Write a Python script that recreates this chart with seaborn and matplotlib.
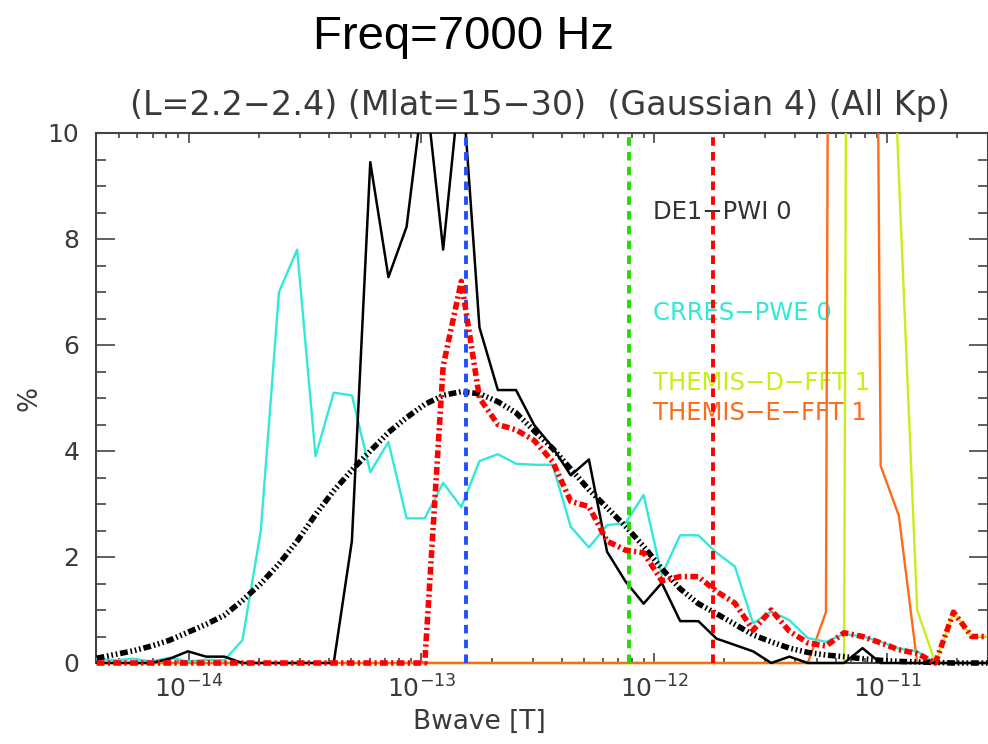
import matplotlib
matplotlib.use("Agg")
import matplotlib.pyplot as plt
import numpy as np
import pandas as pd
import seaborn as sns
from matplotlib.ticker import FixedLocator, NullFormatter, MultipleLocator, LogFormatterMathtext
from matplotlib.patches import Rectangle

# ---------------- data ----------------
LOG_BWAVE = [-14.395, -14.317, -14.238, -14.160, -14.082, -14.003, -13.925, -13.847,
             -13.769, -13.690, -13.612, -13.534, -13.455, -13.377, -13.299, -13.220,
             -13.142, -13.064, -12.986, -12.907, -12.829, -12.751, -12.672, -12.594,
             -12.516, -12.437, -12.359, -12.281, -12.203, -12.124, -12.046, -11.968,
             -11.889, -11.811, -11.733, -11.654, -11.576, -11.498, -11.420, -11.341,
             -11.263, -11.185, -11.106, -11.028, -10.950, -10.871, -10.793, -10.715,
             -10.637, -10.558]

DE1_PWI = [0, 0, 0, 0, 0.08, 0.22, 0.12, 0.12, 0, 0,
           0, 0, 0, 0, 2.3, 9.45, 7.28, 8.23, 11.0, 7.8,
           11.2, 6.33, 5.15, 5.15, 4.49, 4.07, 3.54, 3.84, 2.1, 1.54,
           1.12, 1.51, 0.79, 0.79, 0.46, 0.34, 0.22, 0.0, 0.12, 0,
           0, 0, 0.28, 0, 0, 0, 0, 0, 0, 0]

CRRES_PWE = [0.08, 0.05, 0.08, 0.03, 0.1, 0.03, 0.06, 0.05, 0.43, 2.5,
             7.0, 7.8, 3.9, 5.1, 5.05, 3.6, 4.17, 2.73, 2.73, 3.4,
             2.94, 3.81, 3.94, 3.76, 3.74, 3.74, 2.57, 2.18, 2.6, 2.64,
             3.17, 1.66, 2.41, 2.41, 2.08, 1.82, 0.75, 0.97, 0.81, 0.47,
             0.4, 0.55, 0.5, 0.4, 0.27, 0.22, 0.0, 0, 0, 0]

THEMIS_D = [0] * 42 + [104, 18, 9.2, 1.0, 0, 0.96, 0.5, 0.5]
THEMIS_E = [0] * 40 + [0.96, 97, 51, 3.72, 2.78, 0, 0, 0, 0, 0]

COMBINED = [0, 0, 0, 0, 0, 0, 0, 0, 0, 0,
            0, 0, 0, 0, 0, 0, 0, 0, 0, 5.6,
            7.2, 5.0, 4.5, 4.4, 4.2, 3.8, 3.05, 2.95, 2.3, 2.13,
            2.08, 1.55, 1.63, 1.63, 1.35, 1.13, 0.62, 1.0, 0.6, 0.38,
            0.32, 0.57, 0.5, 0.38, 0.25, 0.18, 0.0, 0.96, 0.5, 0.5]

GAUSS_FIT = [0.09, 0.16, 0.23, 0.32, 0.43, 0.58, 0.73, 0.9, 1.18, 1.5,
             1.87, 2.3, 2.8, 3.25, 3.64, 4.0, 4.35, 4.63, 4.88, 5.05,
             5.12, 5.08, 4.93, 4.72, 4.38, 4.05, 3.66, 3.27, 2.93, 2.58,
             2.2, 1.78, 1.4, 1.12, 0.93, 0.73, 0.53, 0.4, 0.28, 0.2,
             0.15, 0.12, 0.08, 0.05, 0.03, 0.02, 0.01, 0, 0, 0]

X_MAJOR_TICKS = [1e-14, 1e-13, 1e-12, 1e-11]
VLINE_BWAVE = [1.55e-13, 7.8e-13, 1.79e-12]
VLINE_COLORS = ["#1f4fff", "#22dd00", "#ff0000"]

LABELS = ["DE1\u2212PWI 0", "CRRES\u2212PWE 0", "THEMIS\u2212D\u2212FFT 1", "THEMIS\u2212E\u2212FFT 1"]
LABEL_COLORS = ["#333333", "#33e8d8", "#c6f018", "#ff6a1a"]

TITLE = "Freq=7000 Hz"
SUBTITLE = "(L=2.2\u22122.4) (Mlat=15\u221230)  (Gaussian 4) (All Kp)"

# ---------------- styling ----------------
sns.set_style("white")
plt.rcParams["font.family"] = ["DejaVu Sans"]
plt.rcParams["mathtext.default"] = "regular"
AX_GRAY = "#444444"
TXT_GRAY = "#3a3a3a"

df = pd.DataFrame({
    "Bwave": [10.0 ** v for v in LOG_BWAVE],
    "DE1": DE1_PWI, "CRRES": CRRES_PWE, "TD": THEMIS_D, "TE": THEMIS_E,
    "COMB": COMBINED, "GAUSS": GAUSS_FIT,
})

fig = plt.figure(figsize=(9.88, 7.44), dpi=100)
ax = fig.add_axes([96 / 988, 81 / 744, 892 / 988, 530 / 744])

sns.lineplot(data=df, x="Bwave", y="TD", ax=ax, color=LABEL_COLORS[2], lw=1.7, zorder=3, legend=False)
sns.lineplot(data=df, x="Bwave", y="TE", ax=ax, color=LABEL_COLORS[3], lw=1.7, zorder=3.1, legend=False)
sns.lineplot(data=df, x="Bwave", y="CRRES", ax=ax, color=LABEL_COLORS[1], lw=1.7, zorder=3.2, legend=False)
sns.lineplot(data=df, x="Bwave", y="DE1", ax=ax, color="black", lw=1.8, zorder=3.3, legend=False)
sns.lineplot(data=df, x="Bwave", y="GAUSS", ax=ax, color="black", lw=4.0, zorder=4,
             linestyle=(0, (1.4, 0.5, 0.3, 0.5, 0.3, 0.5, 0.3, 0.5)), legend=False)

for xv, c in zip(VLINE_BWAVE, VLINE_COLORS):
    ax.axvline(xv, color=c, lw=2.8, linestyle=(0, (2.2, 1.6)), zorder=4.5)

sns.lineplot(data=df, x="Bwave", y="COMB", ax=ax, color="#ff0000", lw=4.0, zorder=5,
             linestyle=(0, (1.4, 0.6, 0.4, 0.6)), legend=False)

clip = Rectangle((0, -0.03), 1, 1.03, transform=ax.transAxes, facecolor="none", edgecolor="none")
ax.add_patch(clip)
for ln in ax.get_lines():
    ln.set_clip_path(clip)

# in-plot labels
label_y = [0.851, 0.660, 0.528, 0.472]
for txt, col, yy in zip(LABELS, LABEL_COLORS, label_y):
    ax.text(0.6244, yy, txt, color=col, fontsize=17.5, transform=ax.transAxes,
            ha="left", va="center", zorder=1)

# axes
ax.set_xscale("log")
ax.set_xlim(4e-15, 10 ** -10.567)
ax.set_ylim(0, 10)
ax.xaxis.set_major_locator(FixedLocator(X_MAJOR_TICKS))
ax.xaxis.set_major_formatter(LogFormatterMathtext())
minor = [m * 10.0 ** e for e in range(-15, -10) for m in range(2, 10)]
minor = [v for v in minor if 4e-15 <= v <= 10 ** -10.567]
ax.xaxis.set_minor_locator(FixedLocator(minor))
ax.xaxis.set_minor_formatter(NullFormatter())
ax.yaxis.set_major_locator(MultipleLocator(2))
ax.yaxis.set_minor_locator(MultipleLocator(0.5))

ax.tick_params(axis="x", which="major", direction="in", length=7.5, width=1.2,
               top=True, bottom=True, color=AX_GRAY, labelcolor=TXT_GRAY,
               labelsize=18, pad=9)
ax.tick_params(axis="x", which="minor", direction="in", length=3.8, width=1.2,
               top=True, bottom=True, color=AX_GRAY)
ax.tick_params(axis="y", which="major", direction="in", length=13.5, width=1.2,
               left=True, right=True, color=AX_GRAY, labelcolor=TXT_GRAY,
               labelsize=18, pad=12)
ax.tick_params(axis="y", which="minor", direction="in", length=7, width=1.2,
               left=True, right=True, color=AX_GRAY)
for sp in ax.spines.values():
    sp.set_color(AX_GRAY)
    sp.set_linewidth(1.5)
    sp.set_visible(True)

ax.set_xlabel("Bwave [T]", fontsize=19, color=TXT_GRAY)
ax.xaxis.label.set_va("center")
ax.xaxis.set_label_coords((479 - 96) / 892, -(722 - 663) / 530)
ax.set_ylabel("%", fontsize=19, color=TXT_GRAY)
ax.yaxis.label.set_va("center")
ax.yaxis.set_label_coords((30 - 96) / 892, 0.5)

ax.text(0.498, 1 + 27 / 530, SUBTITLE, transform=ax.transAxes, ha="center", va="center",
        fontsize=24, color=TXT_GRAY)
fig.text(463 / 988, 1 - 49 / 744, TITLE, ha="center", va="baseline",
         fontsize=34, family=["Liberation Sans", "DejaVu Sans"], color="black")

fig.savefig("out.png", dpi=100)
